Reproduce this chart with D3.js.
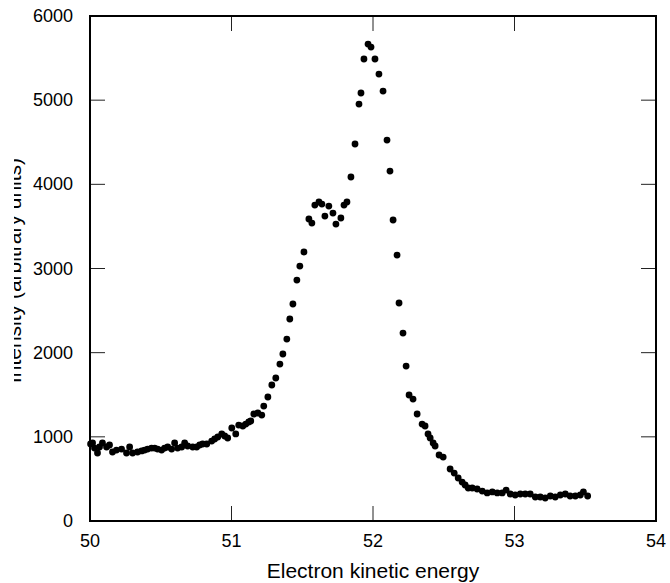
<!DOCTYPE html>
<html>
<head>
<meta charset="utf-8">
<script src="https://cdn.jsdelivr.net/npm/d3@7"></script>
<style>
  body { margin: 0; background: #fff; }
  svg { display: block; font-family: "Liberation Sans", Arial, Helvetica, sans-serif; }
</style>
</head>
<body>
<svg></svg>
<script>
const svgWidth = 670
const svgHeight = 583
const margins = { top: 16, bottom: 62, left: 90, right: 14 }
const plotWidth = svgWidth - margins.left - margins.right
const plotHeight = svgHeight - margins.top - margins.bottom

// electron kinetic energy (x) and intensity (y)
const energy = [
  50.004, 50.018, 50.032, 50.053, 50.067, 50.088, 50.117, 50.138, 50.159, 50.187,
  50.223, 50.258, 50.280, 50.301, 50.336, 50.365, 50.386, 50.407, 50.435, 50.457,
  50.478, 50.506, 50.527, 50.549, 50.577, 50.598, 50.619, 50.648, 50.669, 50.690,
  50.726, 50.754, 50.775, 50.796, 50.825, 50.860, 50.881, 50.903, 50.931, 50.952,
  50.973, 51.002, 51.030, 51.051, 51.080, 51.101, 51.122, 51.136, 51.158, 51.186,
  51.214, 51.228, 51.257, 51.285, 51.313, 51.342, 51.363, 51.391, 51.412, 51.434,
  51.462, 51.483, 51.512, 51.547, 51.568, 51.589, 51.618, 51.639, 51.660, 51.688,
  51.717, 51.738, 51.773, 51.795, 51.816, 51.844, 51.873, 51.901, 51.915, 51.936,
  51.965, 51.986, 52.014, 52.042, 52.071, 52.099, 52.120, 52.142, 52.170, 52.184,
  52.212, 52.234, 52.255, 52.283, 52.312, 52.347, 52.368, 52.389, 52.404, 52.425,
  52.439, 52.467, 52.496, 52.545, 52.574, 52.602, 52.630, 52.651, 52.673, 52.701,
  52.736, 52.772, 52.807, 52.843, 52.878, 52.913, 52.941, 52.970, 53.005, 53.041,
  53.076, 53.111, 53.147, 53.182, 53.217, 53.253, 53.288, 53.324, 53.359, 53.393,
  53.430, 53.465, 53.487, 53.517
]
const intensity = [
  915, 927, 867, 808, 879, 927, 879, 903, 820, 843,
  855, 808, 879, 808, 820, 832, 843, 855, 867, 867,
  855, 843, 867, 879, 855, 927, 867, 879, 927, 891,
  879, 879, 903, 915, 915, 950, 974, 998, 1034, 1010,
  986, 1105, 1034, 1140, 1129, 1152, 1176, 1188, 1271, 1283,
  1259, 1366, 1473, 1616, 1699, 1865, 1984, 2162, 2400, 2578,
  2863, 3029, 3196, 3588, 3540, 3754, 3790, 3766, 3623, 3742,
  3659, 3528, 3600, 3754, 3790, 4087, 4479, 4954, 5085, 5489,
  5667, 5631, 5489, 5310, 5108, 4526, 4158, 3576, 3160, 2590,
  2233, 1841, 1497, 1449, 1271, 1152, 1129, 1034, 986, 927,
  891, 784, 760, 618, 570, 511, 463, 428, 392, 392,
  380, 356, 333, 345, 333, 333, 368, 321, 309, 321,
  321, 321, 285, 285, 273, 297, 285, 309, 321, 297,
  297, 309, 345, 297
]
const xTicks = [50, 51, 52, 53, 54]
const yTicks = [0, 1000, 2000, 3000, 4000, 5000, 6000]

const svg = d3.select("svg")
  .attr("width", svgWidth)
  .attr("height", svgHeight)

const xScale = d3.scaleLinear()
  .domain([50, 54])
  .range([0, plotWidth])
const yScale = d3.scaleLinear()
  .domain([0, 6000])
  .range([plotHeight, 0])

const plot = svg.append("g")
  .attr("transform", `translate(${margins.left},${margins.top})`)

// inward ticks on all four sides
const tickLen = 15
plot.selectAll(".xtick-b")
  .data(xTicks.slice(1, -1))
  .enter()
  .append("line")
  .attr("x1", d => xScale(d)).attr("x2", d => xScale(d))
  .attr("y1", plotHeight).attr("y2", plotHeight - tickLen)
  .attr("stroke", "#222")
plot.selectAll(".xtick-t")
  .data(xTicks.slice(1, -1))
  .enter()
  .append("line")
  .attr("x1", d => xScale(d)).attr("x2", d => xScale(d))
  .attr("y1", 0).attr("y2", tickLen)
  .attr("stroke", "#222")
plot.selectAll(".ytick-l")
  .data(yTicks.slice(1, -1))
  .enter()
  .append("line")
  .attr("x1", 0).attr("x2", tickLen)
  .attr("y1", d => yScale(d)).attr("y2", d => yScale(d))
  .attr("stroke", "#222")
plot.selectAll(".ytick-r")
  .data(yTicks.slice(1, -1))
  .enter()
  .append("line")
  .attr("x1", plotWidth).attr("x2", plotWidth - tickLen)
  .attr("y1", d => yScale(d)).attr("y2", d => yScale(d))
  .attr("stroke", "#222")

// tick labels
plot.selectAll(".xlabel")
  .data(xTicks)
  .enter()
  .append("text")
  .text(d => d)
  .attr("x", d => xScale(d))
  .attr("y", plotHeight + 26)
  .attr("text-anchor", "middle")
  .attr("font-size", 18)
plot.selectAll(".ylabel")
  .data(yTicks)
  .enter()
  .append("text")
  .text(d => d)
  .attr("x", -17)
  .attr("y", d => yScale(d) + 6)
  .attr("text-anchor", "end")
  .attr("font-size", 18)

// data points
plot.selectAll(".point")
  .data(energy)
  .enter()
  .append("circle")
  .attr("cx", d => xScale(d))
  .attr("cy", (d, i) => yScale(intensity[i]))
  .attr("r", 3.4)
  .attr("fill", "#000")

// frame
plot.append("rect")
  .attr("width", plotWidth)
  .attr("height", plotHeight)
  .attr("fill", "none")
  .attr("stroke", "#000")
  .attr("stroke-width", 2)

// axis titles
svg.append("text")
  .text("Electron kinetic energy")
  .attr("x", margins.left + plotWidth / 2)
  .attr("y", svgHeight - 5)
  .attr("text-anchor", "middle")
  .attr("font-size", 21)

// the y title is cut off at the left edge in the original
svg.append("clipPath")
  .attr("id", "ytitle-clip")
  .append("rect")
  .attr("x", 14).attr("y", 0)
  .attr("width", 40).attr("height", svgHeight)
svg.append("g")
  .attr("clip-path", "url(#ytitle-clip)")
  .append("text")
  .text("Intensity (arbitrary units)")
  .attr("transform", `translate(21,${margins.top + plotHeight / 2 + 2}) rotate(-90)`)
  .attr("text-anchor", "middle")
  .attr("font-size", 21)
</script>
</body>
</html>
